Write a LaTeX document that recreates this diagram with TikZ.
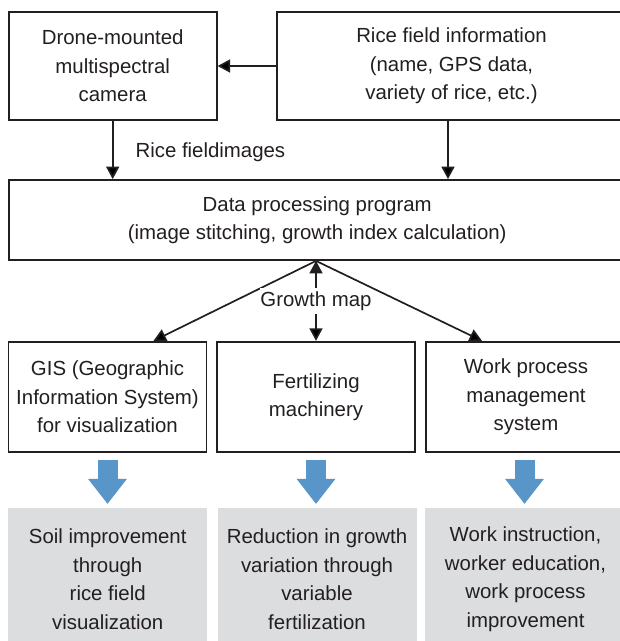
\documentclass[tikz,border=0pt]{standalone}
\usepackage{fontspec}
\setmainfont{Liberation Sans}
\usetikzlibrary{arrows.meta}
\definecolor{ink}{RGB}{35,31,32}
\definecolor{flowblue}{RGB}{88,149,201}
\definecolor{resgray}{RGB}{220,221,223}

\begin{document}
\begin{tikzpicture}[x=1pt,y=-1pt,
		every node/.style={font=\fontsize{20.4}{28.5}\selectfont, text=ink, align=center, inner sep=0pt},
		box/.style={draw=ink, line width=1.8pt, minimum width=198pt, minimum height=110.5pt},
		res/.style={fill=resgray, minimum width=199pt, minimum height=142pt},
		>={Triangle[length=12.5pt 0 1,width=13pt 0 1]},
		flow/.style={draw=ink, line width=1.7pt},
		bigarrow/.style={flowblue, line width=20pt, -{Triangle[length=25pt 0 1,width=39pt 0 1,line width=0pt]}}]
			\useasboundingbox[fill=white] (0,0) rectangle (620,641);
			\clip (0,0) rectangle (620,641);
			\node[box, minimum width=208pt, minimum height=108pt] (cam) at (112.7,66) {Drone-mounted\\multispectral\\camera};
			\node[box, minimum width=349pt, minimum height=108pt] (info) at (451.5,66) {Rice field information\\(name, GPS data,\\variety of rice, etc.)};
			\node[box, minimum width=617pt, minimum height=80pt] (prog) at (317.2,220) {Data processing program\\(image stitching, growth index calculation)};
			\node[box] (gis) at (107.5,397) {GIS (Geographic\\Information System)\\for visualization};
			\node[box] (fert) at (316,397) {Fertilizing\\machinery};
			\node[box, minimum width=200pt] (work) at (526,397) {Work process\\management\\system};
			\node[res] (soil) at (107.7,579) {Soil improvement\\through\\rice field\\visualization};
			\node[res] (red) at (317,579) {Reduction in growth\\variation through\\variable\\fertilization};
			\node[res, minimum width=201pt] (instr) at (525.5,579) {Work instruction,\\worker education,\\work process\\improvement};
			\path[->,flow]
			(info.west) edge (cam.east)
			(cam.south) edge node[right=22pt, pos=0.53]{Rice fieldimages} (cam.south |- prog.north)
			([xshift=-3.5pt]info.south) edge ([xshift=-3.5pt]info.south |- prog.north)
			([xshift=-1.2pt]prog.south) edge ([xshift=46pt]gis.north) edge node[fill=white, inner ysep=3.5pt]{Growth map} (fert.north) edge ([xshift=-44pt]work.north);
			\draw[bigarrow] ([yshift=-6.7pt]gis.south) -- ([yshift=4pt]gis.south |- soil.north);
			\draw[bigarrow] ([yshift=-6.7pt]fert.south) -- ([yshift=4pt]fert.south |- red.north);
			\draw[bigarrow] ([yshift=-6.7pt,xshift=-1.5pt]work.south) -- ([yshift=4pt,xshift=-1.5pt]work.south |- instr.north);
		\end{tikzpicture}
\end{document}
